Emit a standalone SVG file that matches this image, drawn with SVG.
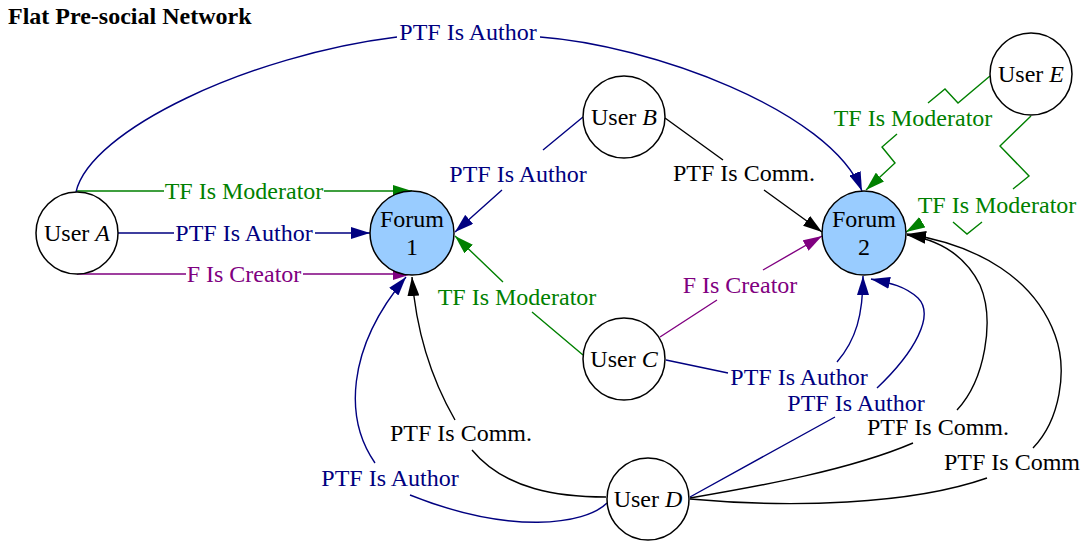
<svg xmlns="http://www.w3.org/2000/svg" width="1087" height="543" viewBox="0 0 1087 543">
<style>
text{font-family:"Liberation Serif","Times New Roman",serif;font-size:24px}
.lbl{text-anchor:middle}
.node{fill:#fff;stroke:#000;stroke-width:1.5}
.forum{fill:#99ccff;stroke:#000;stroke-width:1.5}
.e{fill:none;stroke-width:1.4}
.bl{stroke:#000080}.gr{stroke:#008000}.pu{stroke:#800080}.bk{stroke:#000}
.tb{fill:#000080}.tg{fill:#008000}.tp{fill:#800080}.tk{fill:#000}
</style>
<defs>
<marker id="aBl" markerUnits="userSpaceOnUse" markerWidth="19" markerHeight="12" refX="19" refY="6" orient="auto"><path d="M0,0 L19,6 L0,12 z" fill="#000080"/></marker>
<marker id="aGr" markerUnits="userSpaceOnUse" markerWidth="19" markerHeight="12" refX="19" refY="6" orient="auto"><path d="M0,0 L19,6 L0,12 z" fill="#008000"/></marker>
<marker id="aPu" markerUnits="userSpaceOnUse" markerWidth="19" markerHeight="12" refX="19" refY="6" orient="auto"><path d="M0,0 L19,6 L0,12 z" fill="#800080"/></marker>
<marker id="aBk" markerUnits="userSpaceOnUse" markerWidth="19" markerHeight="12" refX="19" refY="6" orient="auto"><path d="M0,0 L19,6 L0,12 z" fill="#000"/></marker>
</defs>
<rect width="1087" height="543" fill="#fff"/>
<text x="8" y="24" font-weight="bold">Flat Pre-social Network</text>

<g id="edges">
  <path class="e gr" d="M77,191 H164 M324,191 H412" marker-end="url(#aGr)"/>
  <text class="lbl tg" x="244" y="199">TF Is Moderator</text>
  <path class="e bl" d="M118,233 H174 M315,233 H370" marker-end="url(#aBl)"/>
  <text class="lbl tb" x="244" y="241">PTF Is Author</text>
  <path class="e pu" d="M77,274 H186 M303,274 H412" marker-end="url(#aPu)"/>
  <text class="lbl tp" x="244" y="282">F Is Creator</text>

  <path class="e bl" d="M76,192 C90,130 250,55 397,37 M540,37 C650,45 830,110 862,191" marker-end="url(#aBl)"/>
  <text class="lbl tb" x="468" y="40">PTF Is Author</text>

  <path class="e bl" d="M583,117 L543,150 M502,190 L455,232" marker-end="url(#aBl)"/>
  <text class="lbl tb" x="518" y="182">PTF Is Author</text>

  <path class="e bk" d="M665,118 L723,160 M764,190 L822,232" marker-end="url(#aBk)"/>
  <text class="lbl tk" x="744" y="181">PTF Is Comm.</text>

  <path class="e gr" d="M583,355 L532,312 M503,282 L455,236" marker-end="url(#aGr)"/>
  <text class="lbl tg" x="517" y="305">TF Is Moderator</text>

  <path class="e pu" d="M660,337 L717,300 M763,270 L822,236" marker-end="url(#aPu)"/>
  <text class="lbl tp" x="740" y="293">F Is Creator</text>

  <path class="e bl" d="M666,360 L728,373 M837,362 C856,340 863,315 863,276" marker-end="url(#aBl)"/>
  <text class="lbl tb" x="799" y="385">PTF Is Author</text>

  <path class="e bl" d="M690,497 L835,417 M877,388 C915,352 935,315 918,298 C905,286 890,283 871,279" marker-end="url(#aBl)"/>
  <text class="lbl tb" x="856" y="411">PTF Is Author</text>

  <path class="e bk" d="M690,498 C760,486 850,470 913,443 M957,410 C985,380 995,320 980,285 C965,255 940,240 907,235" marker-end="url(#aBk)"/>
  <text class="lbl tk" x="938" y="435">PTF Is Comm.</text>

  <path class="e bk" d="M690,499 C790,508 910,505 987,478 M1033,448 C1060,420 1068,370 1055,335 C1035,280 980,245 907,234" marker-end="url(#aBk)"/>
  <text class="lbl tk" x="1012" y="470">PTF Is Comm</text>

  <path class="e bk" d="M606,497 C560,497 505,490 472,450 M455,420 C432,380 416,330 412,277" marker-end="url(#aBk)"/>
  <text class="lbl tk" x="461" y="441">PTF Is Comm.</text>

  <path class="e bl" d="M607,503 C585,525 510,535 410,495 M375,463 C345,420 345,350 406,277" marker-end="url(#aBl)"/>
  <text class="lbl tb" x="390" y="486">PTF Is Author</text>

  <path class="e gr" d="M990,76 L958,103 L945,89 L928,103 M897,134 L882,147 L895,163 L866,190" marker-end="url(#aGr)"/>
  <text class="lbl tg" x="913" y="126">TF Is Moderator</text>

  <path class="e gr" d="M1031,116 L1000,146 L1029,176 L1013,189 M953,222 L967,234 L982,222 M921,223 L906,232" marker-end="url(#aGr)"/>
  <text class="lbl tg" x="997" y="213">TF Is Moderator</text>
</g>

<g id="userA"><circle class="node" cx="77" cy="233" r="41"/><text class="lbl" x="77" y="241">User <tspan font-style="italic">A</tspan></text></g>
<g id="userB"><circle class="node" cx="624" cy="117" r="41"/><text class="lbl" x="624" y="125">User <tspan font-style="italic">B</tspan></text></g>
<g id="userC"><circle class="node" cx="624" cy="359" r="41"/><text class="lbl" x="624" y="367">User <tspan font-style="italic">C</tspan></text></g>
<g id="userD"><circle class="node" cx="648" cy="499" r="41"/><text class="lbl" x="648" y="507">User <tspan font-style="italic">D</tspan></text></g>
<g id="userE"><circle class="node" cx="1031" cy="74" r="41"/><text class="lbl" x="1031" y="82">User <tspan font-style="italic">E</tspan></text></g>
<g id="forum1"><circle class="forum" cx="412" cy="233" r="42"/><text class="lbl" x="412" y="227">Forum</text><text class="lbl" x="412" y="255">1</text></g>
<g id="forum2"><circle class="forum" cx="864" cy="233" r="42"/><text class="lbl" x="864" y="227">Forum</text><text class="lbl" x="864" y="255">2</text></g>
</svg>
